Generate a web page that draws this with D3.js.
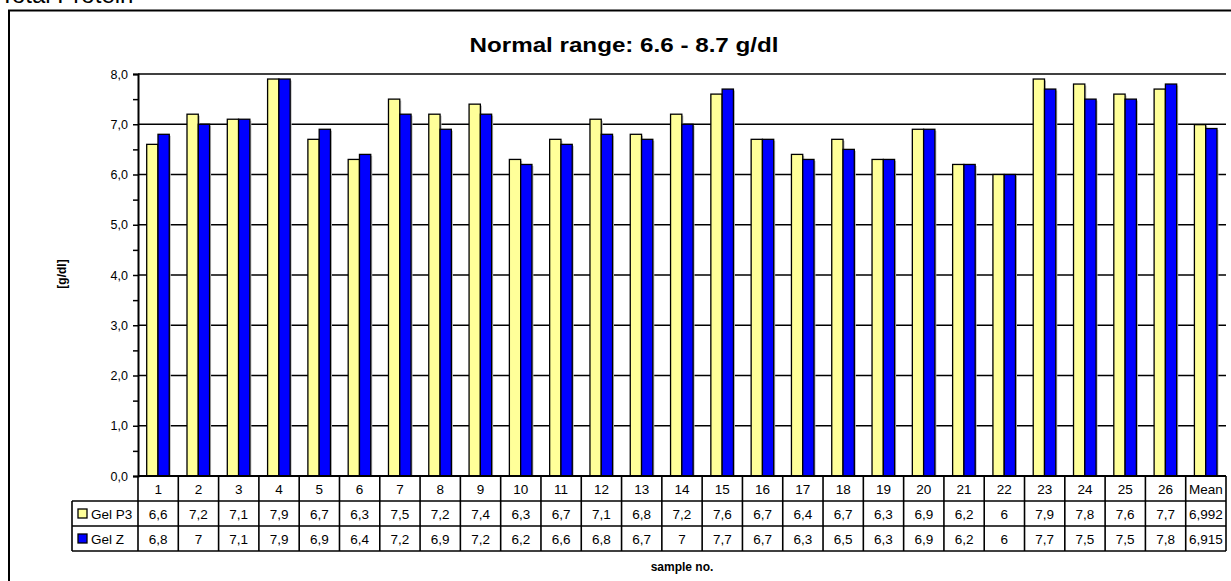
<!DOCTYPE html>
<html>
<head>
<meta charset="utf-8">
<script src="https://cdn.jsdelivr.net/npm/d3@7"></script>
<style>
  html, body { margin: 0; padding: 0; background: #fff; }
  svg { display: block; }
  text { font-family: Arial, "Liberation Sans", sans-serif; fill: #000; }
</style>
</head>
<body>
<svg id="chart" width="1231" height="581"></svg>
<script>
const categories = ["1","2","3","4","5","6","7","8","9","10","11","12","13","14","15","16","17","18","19","20","21","22","23","24","25","26","Mean"];
const gelP3 = [6.6,7.2,7.1,7.9,6.7,6.3,7.5,7.2,7.4,6.3,6.7,7.1,6.8,7.2,7.6,6.7,6.4,6.7,6.3,6.9,6.2,6,7.9,7.8,7.6,7.7,6.992];
const gelZ  = [6.8,7,7.1,7.9,6.9,6.4,7.2,6.9,7.2,6.2,6.6,6.8,6.7,7,7.7,6.7,6.3,6.5,6.3,6.9,6.2,6,7.7,7.5,7.5,7.8,6.915];
const seriesNames = ["Gel P3", "Gel Z"];
const seriesColors = ["#FFFF99", "#0000FF"];
const yTicks = [0,1,2,3,4,5,6,7,8];
const yMinorTicks = [0.5,1.5,2.5,3.5,4.5,5.5,6.5,7.5];

const svg = d3.select("#chart");
const plot = {left: 138, right: 1226, top: 74, bottom: 476};
const rowH = 25;
const legendLeft = 72;

const fmt = v => String(v).replace(".", ",");

// Top cut-off heading
svg.append("text").attr("x", 0).attr("y", 3).attr("font-size", 24).text("Total Protein");

// Outer border
svg.append("rect").attr("x", 9).attr("y", 10.5).attr("width", 1240).attr("height", 600)
  .attr("fill", "none").attr("stroke", "#000").attr("stroke-width", 2);

// Title
svg.append("text").attr("x", 624).attr("y", 52).attr("text-anchor", "middle")
  .attr("font-size", 20).attr("font-weight", "bold")
  .attr("textLength", 309).attr("lengthAdjust", "spacingAndGlyphs")
  .text("Normal range: 6.6 - 8.7 g/dl");

const x = d3.scaleBand().domain(categories).range([plot.left, plot.right]).padding(0);
const y = d3.scaleLinear().domain([0, 8]).range([plot.bottom, plot.top]);
const bw = x.bandwidth();
const barW = bw * 0.28;
const barOff = bw * 0.216;

// Gridlines
svg.append("g").selectAll("line").data(yTicks.filter(d => d > 0)).join("line")
  .attr("x1", plot.left).attr("x2", plot.right)
  .attr("y1", d => y(d)).attr("y2", d => y(d))
  .attr("stroke", "#000").attr("stroke-width", 1.3);

// Y axis
const yAxis = d3.axisLeft(y).tickValues(yTicks).tickSize(5).tickPadding(5)
  .tickFormat(d => d3.format(".1f")(d).replace(".", ","));
const gy = svg.append("g").attr("transform", `translate(${plot.left},0)`).call(yAxis);
gy.select(".domain").attr("stroke", "#000").attr("stroke-width", 2);
gy.selectAll(".tick line").attr("stroke", "#000").attr("stroke-width", 1.5);
gy.selectAll(".tick text").attr("font-size", 12.5).attr("font-family", "Arial, 'Liberation Sans', sans-serif").attr("fill", "#000");
const yMinor = d3.axisLeft(y).tickValues(yMinorTicks).tickSize(5).tickFormat("");
const gy2 = svg.append("g").attr("transform", `translate(${plot.left},0)`).call(yMinor);
gy2.select(".domain").remove();
gy2.selectAll(".tick line").attr("stroke", "#000").attr("stroke-width", 1.5);

// Y label
svg.append("text").attr("transform", `translate(66,274) rotate(-90)`)
  .attr("text-anchor", "middle").attr("font-size", 12).attr("font-weight", "bold")
  .text("[g/dl]");

// Bars
const series = [gelP3, gelZ];
series.forEach((vals, si) => {
  const g = svg.append("g");
  // shadow
  g.selectAll("rect.sh").data(vals).join("rect").attr("class", "sh")
    .attr("x", (d, i) => x(categories[i]) + barOff + si * barW + 1.5)
    .attr("y", d => y(d) + 1.5)
    .attr("width", barW).attr("height", d => y(0) - y(d) - 1.5)
    .attr("fill", "#bbb");
  g.selectAll("rect.bar").data(vals).join("rect").attr("class", "bar")
    .attr("x", (d, i) => x(categories[i]) + barOff + si * barW)
    .attr("y", d => y(d))
    .attr("width", barW).attr("height", d => y(0) - y(d))
    .attr("fill", seriesColors[si]).attr("stroke", "#000").attr("stroke-width", 1.3);
});

// X axis baseline
svg.append("line").attr("x1", plot.left).attr("x2", plot.right)
  .attr("y1", plot.bottom).attr("y2", plot.bottom).attr("stroke", "#000").attr("stroke-width", 2);

// Data table
const tbl = svg.append("g");
const tableBottom = plot.bottom + rowH * 3;
// horizontal lines
tbl.append("line").attr("x1", plot.left).attr("x2", plot.right).attr("y1", plot.bottom).attr("y2", plot.bottom);
[1, 2, 3].forEach(r => {
  tbl.append("line").attr("x1", legendLeft).attr("x2", plot.right)
    .attr("y1", plot.bottom + r * rowH).attr("y2", plot.bottom + r * rowH);
});
// vertical lines
const bounds = categories.map(c => x(c)).concat([plot.right]);
tbl.selectAll("line.v").data(bounds).join("line").attr("class", "v")
  .attr("x1", d => d).attr("x2", d => d).attr("y1", plot.bottom).attr("y2", tableBottom);
tbl.append("line").attr("x1", legendLeft).attr("x2", legendLeft)
  .attr("y1", plot.bottom + rowH).attr("y2", tableBottom);
tbl.selectAll("line").attr("stroke", "#000").attr("stroke-width", 1.6);

// header texts
tbl.selectAll("text.h").data(categories).join("text").attr("class", "h")
  .attr("x", d => x(d) + bw / 2).attr("y", plot.bottom + rowH / 2 + 5)
  .attr("text-anchor", "middle").attr("font-size", 13.5).text(d => d);

series.forEach((vals, si) => {
  const yy = plot.bottom + rowH * (si + 1) + rowH / 2 + 5;
  tbl.selectAll(`text.s${si}`).data(vals).join("text").attr("class", `s${si}`)
    .attr("x", (d, i) => x(categories[i]) + bw / 2).attr("y", yy)
    .attr("text-anchor", "middle").attr("font-size", 13.5).text(d => fmt(d));
  // legend key
  tbl.append("rect").attr("x", 78).attr("y", plot.bottom + rowH * (si + 1) + 8)
    .attr("width", 9).attr("height", 9)
    .attr("fill", seriesColors[si]).attr("stroke", "#000").attr("stroke-width", 1.3);
  tbl.append("text").attr("x", 91).attr("y", yy).attr("font-size", 13.5).text(seriesNames[si]);
});

// X label
svg.append("text").attr("x", (plot.left + plot.right) / 2).attr("y", 571)
  .attr("text-anchor", "middle").attr("font-size", 12).attr("font-weight", "bold")
  .text("sample no.");
</script>
</body>
</html>
